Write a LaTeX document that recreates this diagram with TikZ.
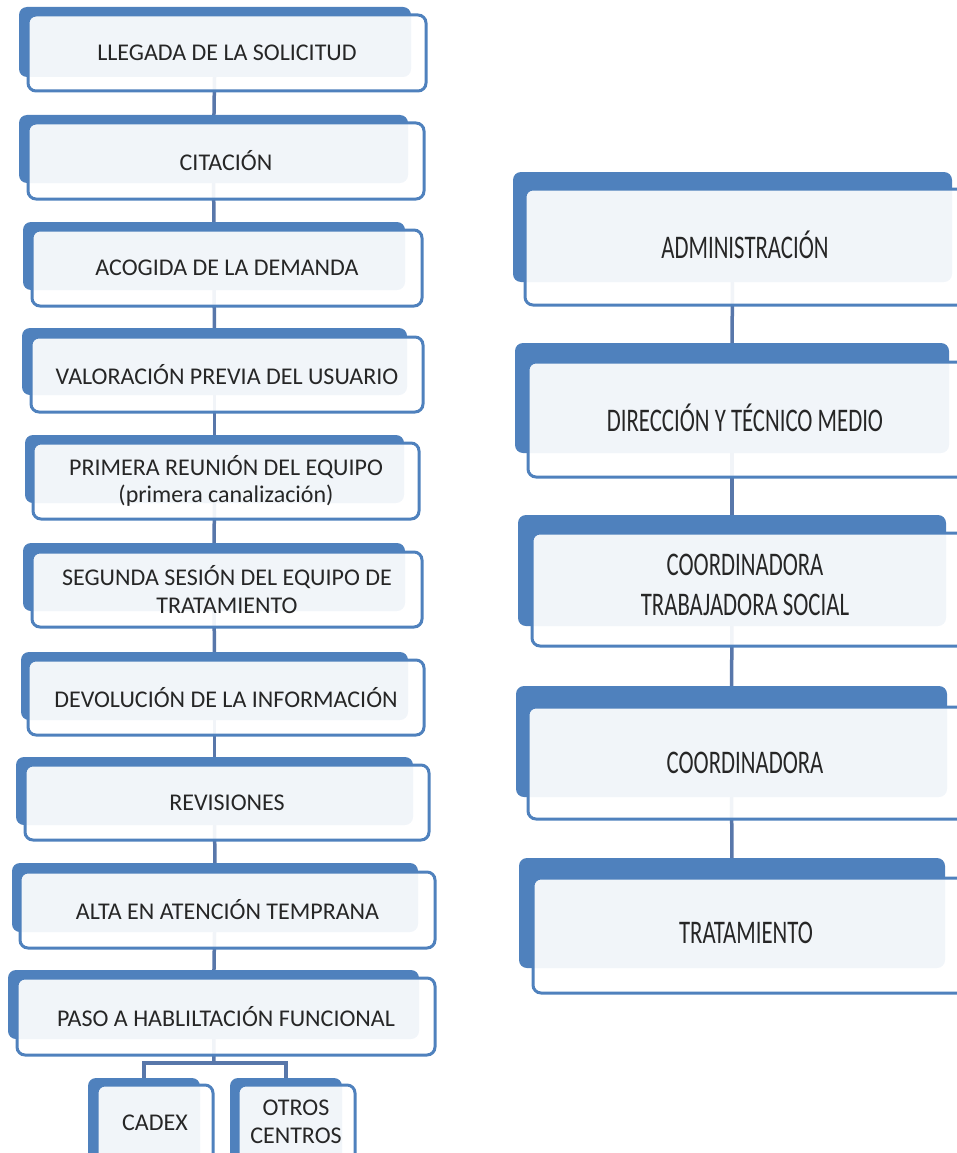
\documentclass[tikz,border=0pt]{standalone}
\usepackage{fontspec}
\setmainfont{Carlito}
\newfontfamily\condfont[FakeStretch=0.69]{Carlito}
\usetikzlibrary{backgrounds}
\definecolor{backc}{HTML}{4F81BD}
\definecolor{edgec}{HTML}{4F81BD}
\definecolor{linkc}{HTML}{5877AA}
\definecolor{txtc}{HTML}{262626}
\tikzset{
  backbox/.style={fill=backc, rounded corners=8pt, inner sep=0pt, outer sep=0pt},
  frontbox/.style={draw=edgec, line width=3pt, fill=white, fill opacity=0.92,
    text opacity=1, rounded corners=8pt, inner sep=0pt, outer sep=0pt,
    text=txtc, align=center},
  lefttext/.style={font=\fontsize{24}{27.5}\selectfont},
  righttext/.style={font=\condfont\fontsize{33}{40}\selectfont},
  link/.style={draw=linkc, line width=3.5pt}
}
\newcommand{\backrect}[5]{%
  \node[backbox, minimum width={(#4-#2)*1pt}, minimum height={(#5-#3)*1pt}]
    (#1) at ({(#2+#4)/2},{(#3+#5)/2}) {};}
\newcommand{\frontrect}[7]{%
  \node[frontbox, #7, minimum width={(#4-#2)*1pt}, minimum height={(#5-#3)*1pt}]
    (#1) at ({(#2+#4)/2},{(#3+#5)/2}) {#6};}
\begin{document}
\begin{tikzpicture}[x=1pt,y=-1pt]
\useasboundingbox (0,0) rectangle (957,1153);
% left column
\backrect{b1}{19}{7}{411}{77}
\frontrect{f1}{28}{15}{426}{91}{LLEGADA DE LA SOLICITUD}{lefttext}
\backrect{b2}{19}{115}{408}{183}
\frontrect{f2}{28}{123}{424}{199}{CITACIÓN}{lefttext}
\backrect{b3}{23}{222}{405}{290}
\frontrect{f3}{32}{230}{422}{306}{ACOGIDA DE LA DEMANDA}{lefttext}
\backrect{b4}{22}{328}{407}{395}
\frontrect{f4}{31}{337}{423}{412}{VALORACIÓN PREVIA DEL USUARIO}{lefttext}
\backrect{b5}{25}{435}{404}{503}
\frontrect{f5}{33}{443}{419}{519}{PRIMERA REUNIÓN DEL EQUIPO\\(primera canalización)}{lefttext}
\backrect{b6}{23}{543}{405}{611}
\frontrect{f6}{32}{552}{422}{627}{SEGUNDA SESIÓN DEL EQUIPO DE\\TRATAMIENTO}{lefttext}
\backrect{b7}{21}{652}{408}{720}
\frontrect{f7}{28}{660}{424}{735}{DEVOLUCIÓN DE LA INFORMACIÓN}{lefttext}
\backrect{b8}{16}{757}{413}{825}
\frontrect{f8}{25}{765}{429}{840}{REVISIONES}{lefttext}
\backrect{b9}{12}{863}{418}{932}
\frontrect{f9}{20}{872}{435}{948}{ALTA EN ATENCIÓN TEMPRANA}{lefttext}
\backrect{b10}{8}{970}{419}{1039}
\frontrect{f10}{17}{978}{435}{1055}{PASO A HABLILTACIÓN FUNCIONAL}{lefttext}
\backrect{bc}{88}{1078}{200}{1170}
\backrect{bo}{230}{1078}{342}{1170}
\node[frontbox, minimum width=116pt, minimum height=95pt, anchor=north west] (fc) at (97,1085) {};
\node[lefttext, text=txtc] (tc) at (155,1123) {CADEX};
\node[frontbox, minimum width=117pt, minimum height=95pt, anchor=north west] (fo) at (238,1085) {};
\node[lefttext, text=txtc, align=center] (to) at (296,1122) {OTROS\\CENTROS};
% right column
\backrect{r1}{513}{172}{952}{282}
\frontrect{s1}{525}{189}{975}{305}{}{righttext}
\node[righttext, text=txtc] (t1) at (745,245) {ADMINISTRACIÓN};
\backrect{r2}{515}{343}{949}{453}
\frontrect{s2}{528}{362}{975}{477}{}{righttext}
\node[righttext, text=txtc] (t2) at (745,418) {DIRECCIÓN Y TÉCNICO MEDIO};
\backrect{r3}{518}{515}{946}{626}
\frontrect{s3}{532}{533}{975}{646}{}{righttext}
\node[righttext, text=txtc, align=center] (t3) at (745,585) {COORDINADORA\\TRABAJADORA SOCIAL};
\backrect{r4}{516}{686}{947}{797}
\frontrect{s4}{528}{707}{975}{819}{}{righttext}
\node[righttext, text=txtc] (t4) at (745,763) {COORDINADORA};
\backrect{r5}{519}{858}{945}{968}
\frontrect{s5}{533}{878}{975}{993}{}{righttext}
\node[righttext, text=txtc] (t5) at (746,933) {TRATAMIENTO};
% connectors
\begin{scope}[on background layer]
\foreach \a/\b in {b1/b2,b2/b3,b3/b4,b4/b5,b5/b6,b6/b7,b7/b8,b8/b9,b9/b10,r1/r2,r2/r3,r3/r4,r4/r5}
  \draw[link] (\a.center) -- (\b.center);
\coordinate (br) at (214,1063);
\draw[link] (b10.center) -- (br);
\draw[link] (bc.center) |- (br);
\draw[link] (bo.center) |- (br);
\end{scope}
\end{tikzpicture}
\end{document}
